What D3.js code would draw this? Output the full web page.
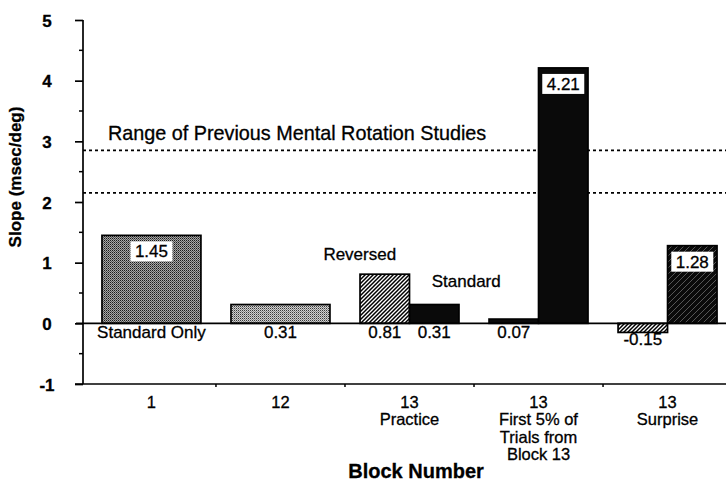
<!DOCTYPE html>
<html><head><meta charset="utf-8">
<script src="https://cdn.jsdelivr.net/npm/d3@7"></script>
<style>
body{margin:0;background:#fff;}
text{font-family:"Liberation Sans",Arial,Helvetica,sans-serif;fill:#000;stroke:#000;stroke-width:0.3px;}
</style></head>
<body><svg id="c" width="726" height="486"></svg>
<script>
// ---- data ----
const categories = ["1", "12", "13 Practice", "13 First 5%", "13 Surprise"];
const tickLabelLines = [["1"], ["12"], ["13", "Practice"], ["13", "First 5% of", "Trials from", "Block 13"], ["13", "Surprise"]];
const reversedValues = [null, null, 0.81, 0.07, -0.15];
const standardValues = [1.45, 0.31, 0.31, 4.21, 1.28];
const yTicks = [-1, 0, 1, 2, 3, 4, 5];
const yMinorTicks = [-0.5, 0.5, 1.5, 2.5, 3.5, 4.5];
const rangeBounds = [2.15, 2.85];
const rangeLabel = "Range of Previous Mental Rotation Studies";
const yTitle = "Slope (msec/deg)";
const xTitle = "Block Number";

// ---- styles ----
const reversedFill = [null, null, "url(#hatch)", "#0a0a0a", "url(#hatch)"];
const standardFill = ["url(#stipDark)", "url(#stipLight)", "#0a0a0a", "#0a0a0a", "url(#darkHatch)"];
const fmt = v => d3.format(".2f")(v).replace("\u2212", "-");

const svg = d3.select("#c");
svg.append("rect").attr("width", 726).attr("height", 486).attr("fill", "#fff");
const defs = svg.append("defs");

const p1 = defs.append("pattern").attr("id", "stipDark").attr("patternUnits", "userSpaceOnUse").attr("width", 2).attr("height", 2);
p1.append("rect").attr("width", 2).attr("height", 2).attr("fill", "#a8a8a8");
p1.append("rect").attr("width", 1).attr("height", 1).attr("fill", "#1a1a1a");
p1.append("rect").attr("x", 1).attr("y", 1).attr("width", 1).attr("height", 1).attr("fill", "#555");

const p2 = defs.append("pattern").attr("id", "stipLight").attr("patternUnits", "userSpaceOnUse").attr("width", 2).attr("height", 2);
p2.append("rect").attr("width", 2).attr("height", 2).attr("fill", "#d0d0d0");
p2.append("rect").attr("width", 1).attr("height", 1).attr("fill", "#3a3a3a");
p2.append("rect").attr("x", 1).attr("y", 1).attr("width", 1).attr("height", 1).attr("fill", "#8a8a8a");

const p3 = defs.append("pattern").attr("id", "hatch").attr("patternUnits", "userSpaceOnUse").attr("width", 4).attr("height", 4);
p3.append("rect").attr("width", 4).attr("height", 4).attr("fill", "#fff");
p3.append("path").attr("d", "M-1,1 l2,-2 M0,4 l4,-4 M3,5 l2,-2").attr("stroke", "#000").attr("stroke-width", 1.5);

const p4 = defs.append("pattern").attr("id", "darkHatch").attr("patternUnits", "userSpaceOnUse").attr("width", 6).attr("height", 6);
p4.append("rect").attr("width", 6).attr("height", 6).attr("fill", "#0a0a0a");
p4.append("path").attr("d", "M-1,1 l2,-2 M0,6 l6,-6 M5,7 l2,-2").attr("stroke", "#6a6a6a").attr("stroke-width", 0.8);

// ---- scales ----
const y = d3.scaleLinear().domain([-1, 5]).range([384, 20]);
const x = d3.scaleBand().domain(categories).range([83, 736]).paddingInner(0.233).paddingOuter(0.147);
const sub = d3.scaleBand().domain(["rev", "std"]).range([0, x.bandwidth()]);
const axisX = 83, rightEdge = 726;

// dotted range lines
svg.selectAll("line.range").data(rangeBounds).join("line")
  .attr("x1", axisX).attr("x2", rightEdge)
  .attr("y1", d => y(d)).attr("y2", d => y(d))
  .attr("stroke", "#000").attr("stroke-width", 1.7).attr("stroke-dasharray", "3,3");
svg.append("text").attr("x", 108).attr("y", y(rangeBounds[1]) - 10)
  .attr("font-size", 19.8).text(rangeLabel);

// bars
const bars = [];
categories.forEach((c, i) => {
  const r = reversedValues[i], s = standardValues[i];
  if (r === null) {
    bars.push({c, v: s, x0: x(c), w: x.bandwidth(), fill: standardFill[i], kind: "std", i});
  } else {
    bars.push({c, v: r, x0: x(c) + sub("rev"), w: sub.bandwidth(), fill: reversedFill[i], kind: "rev", i});
    bars.push({c, v: s, x0: x(c) + sub("std"), w: sub.bandwidth(), fill: standardFill[i], kind: "std", i});
  }
});
svg.selectAll("rect.bar").data(bars).join("rect")
  .attr("x", d => d.x0).attr("width", d => d.w)
  .attr("y", d => y(Math.max(0, d.v))).attr("height", d => Math.abs(y(d.v) - y(0)))
  .attr("fill", d => d.fill).attr("stroke", "#000").attr("stroke-width", 1.7);

// zero line
svg.append("line").attr("x1", 76).attr("x2", rightEdge).attr("y1", y(0)).attr("y2", y(0))
  .attr("stroke", "#000").attr("stroke-width", 1.7);

// value labels
bars.forEach(d => {
  const cx = d.x0 + d.w / 2;
  const txt = fmt(d.v);
  if (d.v > 1) {
    svg.append("rect").attr("x", cx - 21).attr("y", y(d.v) + 6).attr("width", 42).attr("height", 20)
      .attr("fill", "#fff");
    svg.append("text").attr("x", cx).attr("y", y(d.v) + 22).attr("text-anchor", "middle")
      .attr("font-size", 17).text(txt);
  } else {
    const base = d.v < 0 ? y(d.v) + 13 : y(0) + 15;
    svg.append("text").attr("x", cx).attr("y", base).attr("text-anchor", "middle")
      .attr("font-size", 17).text(txt);
  }
});
svg.append("text").attr("x", x(categories[0]) + x.bandwidth() / 2).attr("y", y(0) + 15)
  .attr("text-anchor", "middle").attr("font-size", 17).text("Standard Only");

// series annotations
svg.append("text").attr("x", x(categories[2]) + sub("rev") + sub.bandwidth() / 2 - 25).attr("y", 260)
  .attr("text-anchor", "middle").attr("font-size", 17).text("Reversed");
svg.append("text").attr("x", x(categories[2]) + sub("std") + sub.bandwidth() / 2 + 32).attr("y", 287)
  .attr("text-anchor", "middle").attr("font-size", 17).text("Standard");

// y axis
const yAxis = d3.axisLeft(y).tickValues(yTicks).tickSize(8).tickFormat(d => String(d));
const gy = svg.append("g").attr("transform", `translate(${axisX},0)`).call(yAxis);
gy.select(".domain").attr("stroke-width", 1.7).attr("d", `M-0,${y(5)}V${y(-1)}`);
gy.selectAll(".tick line").attr("stroke-width", 1.7);
gy.selectAll(".tick text").attr("x", -36).attr("text-anchor", "middle").attr("dy", "0.36em")
  .attr("font-size", 17).attr("font-weight", "bold").attr("font-family", "Liberation Sans, Arial, sans-serif");
svg.selectAll("line.minor").data(yMinorTicks).join("line")
  .attr("x1", axisX - 4).attr("x2", axisX).attr("y1", d => y(d)).attr("y2", d => y(d))
  .attr("stroke", "#000").attr("stroke-width", 1.5);

// bottom axis
svg.append("line").attr("x1", 75).attr("x2", rightEdge).attr("y1", y(-1)).attr("y2", y(-1))
  .attr("stroke", "#000").attr("stroke-width", 1.7);
const step = x.step(), gap = step - x.bandwidth();
svg.selectAll("line.xt").data(categories.slice(0, 4)).join("line")
  .attr("x1", d => x(d) + x.bandwidth() + gap / 2).attr("x2", d => x(d) + x.bandwidth() + gap / 2)
  .attr("y1", y(-1)).attr("y2", y(-1) + 3).attr("stroke", "#000").attr("stroke-width", 1.5);
categories.forEach((c, i) => {
  const t = svg.append("text").attr("x", x(c) + x.bandwidth() / 2).attr("y", 408)
    .attr("text-anchor", "middle").attr("font-size", 16.5);
  tickLabelLines[i].forEach((ln, j) => {
    t.append("tspan").attr("x", x(c) + x.bandwidth() / 2).attr("dy", j === 0 ? 0 : 17.3).text(ln);
  });
});

// titles
svg.append("text").attr("x", 416).attr("y", 478).attr("text-anchor", "middle")
  .attr("font-size", 20).attr("font-weight", "bold").text(xTitle);
svg.append("text").attr("transform", "translate(21,177) rotate(-90)").attr("text-anchor", "middle")
  .attr("font-size", 17).attr("font-weight", "bold").text(yTitle);
</script></body></html>
